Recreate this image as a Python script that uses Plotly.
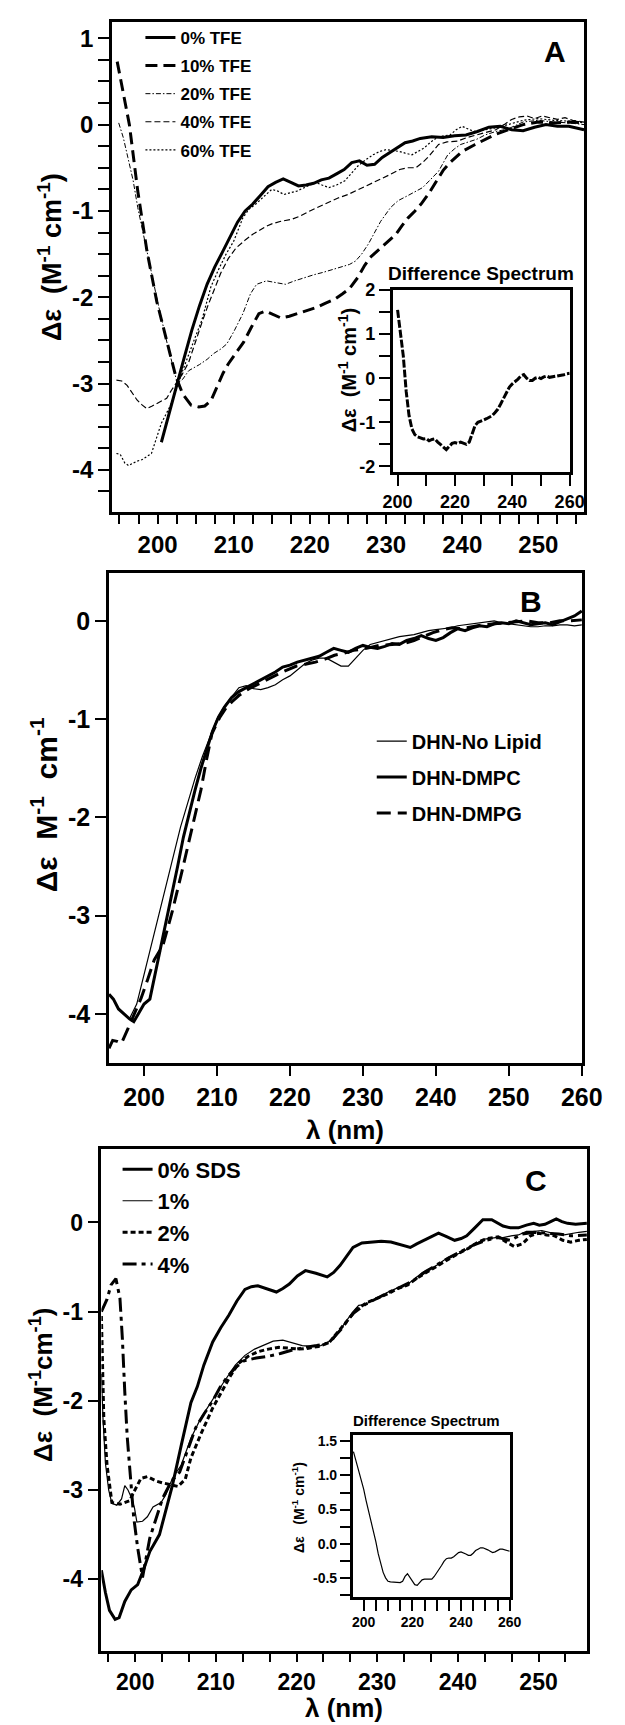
import plotly.graph_objects as go

W, H = 625, 1725
FONT = "Liberation Sans, Arial, Helvetica, sans-serif"

# ---------------- Panel A : TFE titration ----------------
tfe0_x = [200.5, 201.5, 202.5, 203.5, 204.5, 205.5, 206.5, 207.5, 208.5, 209.5, 210.5, 211.5, 212.5, 213.5, 214.5,
          215.5, 216.5, 217.5, 218.5, 219.5, 220.5, 221.5, 222.5, 223.5, 224.5, 225.5, 226.5, 227.5, 228.5, 229.5,
          230.5, 231.5, 232.5, 233.5, 234.5, 236, 237.5, 239, 240.5, 242, 243.5, 245, 246.5, 248, 249.5, 251, 252.5,
          254, 256]
tfe0_y = [-3.68, -3.35, -3.0, -2.7, -2.38, -2.1, -1.85, -1.65, -1.48, -1.3, -1.13, -1.0, -0.92, -0.82, -0.72,
          -0.67, -0.63, -0.67, -0.71, -0.70, -0.68, -0.64, -0.62, -0.57, -0.52, -0.44, -0.42, -0.47, -0.46, -0.38,
          -0.32, -0.26, -0.21, -0.19, -0.16, -0.14, -0.15, -0.13, -0.12, -0.08, -0.03, -0.02, -0.06, -0.07, -0.03,
          0.0, -0.02, -0.02, -0.06]

tfe10_x = [194.7, 195.5, 196.3, 197.4, 198.6, 199.9, 201.1, 202.4, 203.3, 204.4, 205.4, 206.2, 207.0, 207.8, 208.6,
           209.3, 210.3, 211.3, 212.3, 213.3, 214.2, 215.2, 216.2, 217.3, 218.3, 219.5, 220.8, 222.0, 223.3, 224.3,
           225.2, 226.3, 227.2, 227.9, 229.0, 230.0, 231.3, 232.1, 232.9, 233.8, 234.6, 235.6, 236.7, 237.5, 238.4,
           239.2, 240.0, 241.7, 243.0, 244.2, 246.0, 248.0, 250.0, 252.0, 254.0, 256.0]
tfe10_y = [0.73, 0.35, 0.0, -0.77, -1.46, -2.05, -2.46, -2.92, -3.12, -3.25, -3.27, -3.26, -3.2, -3.05, -2.88,
           -2.77, -2.64, -2.52, -2.35, -2.19, -2.16, -2.2, -2.24, -2.22, -2.19, -2.16, -2.12, -2.07, -2.02, -1.96,
           -1.9, -1.77, -1.63, -1.54, -1.45, -1.38, -1.27, -1.17, -1.08, -1.0, -0.92, -0.8, -0.65, -0.53, -0.44,
           -0.37, -0.31, -0.23, -0.17, -0.12, -0.06, 0.0, 0.03, 0.02, 0.03, 0.02]

tfe20_x = [194.9, 195.5, 196.1, 196.8, 197.4, 198.2, 199.1, 200.0, 201.3, 202.6, 203.3, 204.1, 205.5, 206.5, 207.4,
           208.3, 209.1, 210.0, 211.2, 212.2, 213.0, 214.3, 215.5, 216.8, 218.0, 219.3, 220.5, 221.8, 223.0, 224.3,
           225.2, 226.0, 226.8, 227.7, 228.5, 229.3, 230.6, 231.6, 232.7, 233.8, 234.8, 235.8, 236.9, 238.1, 239.0,
           239.8, 241.0, 241.9, 243.0, 244.4, 246.0, 248.0, 250.0, 252.0, 254.0, 256.0]
tfe20_y = [0.02, -0.15, -0.38, -0.65, -0.96, -1.3, -1.65, -2.05, -2.55, -3.0, -2.95, -2.85, -2.78, -2.72, -2.65,
           -2.6, -2.54, -2.4, -2.19, -1.96, -1.85, -1.81, -1.83, -1.85, -1.81, -1.77, -1.74, -1.71, -1.68, -1.65,
           -1.62, -1.58, -1.5, -1.38, -1.25, -1.12, -0.96, -0.88, -0.83, -0.78, -0.73, -0.64, -0.54, -0.35, -0.28,
           -0.23, -0.2, -0.17, -0.12, -0.08, -0.05, 0.03, 0.05, 0.03, 0.02, 0.0]

tfe40_x = [194.6, 195.3, 196.0, 196.7, 197.3, 198.0, 198.6, 199.3, 199.9, 200.5, 201.2, 201.8, 202.4, 203.2, 204.1,
           205.0, 205.8, 206.6, 207.4, 208.3, 209.3, 210.3, 211.6, 212.5, 213.3, 214.2, 215.0, 216.2, 217.5, 218.7,
           220.0, 221.2, 222.5, 223.7, 225.0, 226.2, 227.5, 228.4, 229.3, 230.5, 231.8, 232.8, 233.9, 234.8, 235.6,
           236.3, 236.9, 238.0, 239.4, 240.6, 241.9, 243.0, 244.4, 245.5, 246.5, 247.5, 248.5, 249.5, 250.5, 251.5,
           252.5, 253.5, 254.5, 256.0]
tfe40_y = [-2.96, -2.97, -3.02, -3.12, -3.19, -3.25, -3.29, -3.26, -3.23, -3.21, -3.17, -3.08, -3.0, -2.9, -2.75,
           -2.5, -2.3, -2.1, -1.93, -1.72, -1.55, -1.43, -1.33, -1.27, -1.23, -1.18, -1.15, -1.12, -1.10, -1.06,
           -1.0, -0.95, -0.9, -0.85, -0.81, -0.76, -0.71, -0.67, -0.63, -0.58, -0.52, -0.5, -0.5, -0.44, -0.37,
           -0.3, -0.23, -0.2, -0.19, -0.15, -0.12, -0.09, -0.06, 0.0, 0.06, 0.09, 0.1, 0.07, 0.1, 0.08,
           0.06, 0.08, 0.05, 0.03]

tfe60_x = [194.6, 195.1, 195.7, 196.2, 196.6, 197.3, 198.0, 198.6, 199.2, 199.9, 200.5, 201.6, 202.6, 203.3, 204.1,
           205.0, 205.8, 206.5, 207.0, 208.0, 209.0, 210.0, 211.2, 212.0, 212.9, 214.0, 215.0, 215.8, 216.6, 217.4,
           218.3, 219.5, 220.8, 221.6, 222.5, 223.5, 224.6, 225.5, 226.3, 227.3, 228.3, 229.2, 230.0, 230.8, 231.7,
           232.5, 233.4, 234.2, 235.0, 235.9, 236.7, 237.5, 238.4, 239.2, 240.0, 241.0, 241.7, 243.0, 244.2, 246.0,
           248.0, 250.0, 252.0, 254.0, 256.0]
tfe60_y = [-3.81, -3.82, -3.92, -3.95, -3.93, -3.9, -3.88, -3.85, -3.81, -3.62, -3.46, -3.27, -3.04, -2.85, -2.65,
           -2.45, -2.27, -2.05, -1.88, -1.68, -1.5, -1.35, -1.08, -0.98, -0.92, -0.83, -0.75, -0.77, -0.81, -0.79,
           -0.77, -0.72, -0.67, -0.70, -0.73, -0.7, -0.65, -0.56, -0.48, -0.41, -0.35, -0.31, -0.29, -0.3, -0.31,
           -0.33, -0.35, -0.31, -0.27, -0.2, -0.15, -0.13, -0.12, -0.06, -0.02, -0.06, -0.08, -0.06, -0.04, 0.0,
           0.05, 0.07, 0.05, 0.04, 0.02]

diffA_x = [200, 201, 202, 203, 204, 205, 206, 207, 208, 209, 210, 211, 212, 213, 214, 215, 216, 217, 218, 219, 220,
           221, 222, 223, 224, 225, 226, 227, 228, 229, 230, 231, 232, 233, 234, 235, 236, 237, 238, 239, 240, 241,
           242, 243, 244, 245, 246, 247, 248, 249, 250, 251, 252, 253, 254, 255, 256, 257, 258, 259, 260]
diffA_y = [1.55, 1.0, 0.5, -0.3, -0.85, -1.15, -1.28, -1.33, -1.36, -1.38, -1.37, -1.42, -1.39, -1.38, -1.45, -1.5,
           -1.55, -1.62, -1.55, -1.48, -1.46, -1.48, -1.45, -1.47, -1.5, -1.45, -1.25, -1.08, -1.0, -0.98, -0.95,
           -0.92, -0.88, -0.85, -0.78, -0.7, -0.58, -0.46, -0.32, -0.2, -0.13, -0.08, -0.02, 0.05, 0.08, 0.0, -0.05,
           -0.05, 0.0, 0.02, -0.01, 0.03, 0.05, 0.02, 0.03, 0.04, 0.05, 0.06, 0.08, 0.1, 0.11]

# ---------------- Panel B : lipids ----------------
nolip_x = [198.0, 199.0, 200.0, 201.0, 202.0, 203.0, 204.0, 205.0, 206.0, 207.0, 208.0, 209.0, 210.0, 211.0, 212.0,
           213.0, 214.0, 215.0, 216.0, 217.0, 218.0, 219.0, 220.0, 221.0, 222.0, 223.0, 224.0, 225.0, 226.0, 227.0,
           228.0, 229.0, 230.0, 231.0, 232.0, 233.0, 234.0, 235.0, 236.0, 237.0, 238.0, 239.0, 240.0, 241.0, 242.0,
           243.0, 244.0, 245.0, 246.0, 247.0, 248.0, 249.0, 250.0, 251.0, 252.0, 253.0, 254.0, 255.0, 256.0, 257.0,
           258.0, 259.0, 260.0]
nolip_y = [-4.05, -3.9, -3.6, -3.3, -3.0, -2.7, -2.4, -2.1, -1.85, -1.6, -1.38, -1.18, -1.0, -0.87, -0.77,
           -0.68, -0.66, -0.69, -0.7, -0.68, -0.65, -0.6, -0.56, -0.5, -0.44, -0.4, -0.38, -0.38, -0.42, -0.46,
           -0.46, -0.38, -0.3, -0.24, -0.22, -0.2, -0.18, -0.16, -0.15, -0.14, -0.12, -0.1, -0.09, -0.08, -0.07,
           -0.05, -0.04, -0.03, -0.02, -0.01, 0.0, -0.02, -0.03, -0.04, -0.05, -0.06, -0.06, -0.05, -0.05, -0.04,
           -0.04, -0.05, -0.04]

dmpc_x = [195.2, 195.8, 196.5, 197.2, 198.0, 198.6, 199.2, 200.0, 200.8, 201.5, 202.2, 203.0, 203.8, 204.6, 205.4,
          206.2, 207.0, 207.8, 208.6, 209.4, 210.2, 211.0, 212.0, 213.0, 214.0, 215.0, 216.0, 217.0, 218.0, 219.0,
          220.0, 221.0, 222.0, 223.0, 224.0, 225.0, 226.0, 227.0, 228.0, 229.0, 230.0, 231.0, 232.0, 233.0, 234.0,
          235.0, 236.0, 237.0, 238.0, 239.0, 240.0, 241.0, 242.0, 243.0, 244.0, 245.0, 246.0, 247.0, 248.0, 249.0,
          250.0, 251.0, 252.0, 253.0, 254.0, 255.0, 256.0, 257.0, 258.0, 259.0, 260.0]
dmpc_y = [-3.8, -3.85, -3.95, -4.0, -4.05, -4.08, -4.0, -3.9, -3.85, -3.6, -3.35, -3.1, -2.8, -2.5, -2.2,
          -1.95, -1.72, -1.5, -1.3, -1.12, -0.98, -0.88, -0.78, -0.72, -0.68, -0.64, -0.6, -0.56, -0.52, -0.47,
          -0.45, -0.42, -0.4, -0.38, -0.36, -0.32, -0.28, -0.3, -0.32, -0.28, -0.25, -0.27, -0.28, -0.26, -0.23,
          -0.24, -0.2, -0.18, -0.15, -0.18, -0.2, -0.17, -0.12, -0.08, -0.1, -0.07, -0.05, -0.06, -0.03, -0.02,
          -0.03, 0.0, -0.02, -0.04, -0.03, -0.02, -0.04, -0.01, 0.02, 0.05, 0.1]

dmpg_x = [195.2, 195.7, 196.3, 196.9, 197.8, 198.7, 199.6, 200.5, 201.4, 202.6, 203.9, 205.2, 206.5, 207.8, 208.6,
          209.3, 210.4, 211.3, 212.1, 213.0, 214.4, 216.0, 217.4, 219.0, 220.9, 222.3, 223.5, 224.8, 226.1, 227.4,
          228.7, 230.5, 232.2, 234.0, 235.7, 237.0, 238.3, 239.6, 240.9, 242.2, 243.5, 245.0, 246.5, 248.0, 249.5,
          251.0, 252.5, 254.0, 255.5, 257.0, 258.5, 260.0]
dmpg_y = [-4.35, -4.27, -4.28, -4.3, -4.15, -4.0, -3.84, -3.65, -3.45, -3.3, -2.95, -2.55, -2.15, -1.72, -1.4,
          -1.15, -0.98, -0.88, -0.82, -0.76, -0.69, -0.63, -0.58, -0.52, -0.46, -0.44, -0.42, -0.39, -0.35, -0.33,
          -0.3, -0.28, -0.25, -0.24, -0.23, -0.2, -0.16, -0.12, -0.09, -0.07, -0.08, -0.06, -0.04, -0.03, -0.02,
          -0.01, 0.0, -0.02, -0.02, 0.0, 0.0, 0.01]

# ---------------- Panel C : SDS ----------------
sds0_x = [195.8, 196.3, 196.8, 197.5, 198.0, 198.7, 199.5, 200.3, 201.0, 201.8, 203.0, 203.8, 204.6, 205.7, 206.9,
          207.7, 208.5, 209.6, 210.6, 211.6, 212.6, 213.6, 214.4, 215.2, 216.3, 217.5, 218.3, 219.1, 220.1, 221.1,
          222.4, 223.8, 224.6, 225.4, 226.2, 227.0, 228.1, 229.3, 230.5, 231.7, 232.9, 234.1, 234.9, 235.6, 236.6,
          237.6, 238.6, 239.6, 240.4, 241.1, 242.1, 243.1, 244.2, 245.6, 246.5, 247.5, 248.5, 249.4, 250.1, 250.8,
          251.5, 252.2, 252.9, 253.6, 254.6, 256.0]
sds0_y = [-3.9, -4.15, -4.35, -4.45, -4.43, -4.25, -4.12, -4.06, -3.9, -3.69, -3.5, -3.24, -2.95, -2.5, -2.02,
          -1.84, -1.6, -1.34, -1.18, -1.04, -0.88, -0.75, -0.72, -0.71, -0.74, -0.78, -0.74, -0.69, -0.6, -0.54,
          -0.57, -0.61, -0.56, -0.48, -0.38, -0.28, -0.23, -0.22, -0.21, -0.22, -0.25, -0.28, -0.24, -0.21, -0.16,
          -0.12, -0.16, -0.2, -0.18, -0.15, -0.06, 0.03, 0.03, -0.04, -0.06, -0.06, -0.03, -0.01, -0.03, -0.02,
          0.01, 0.04, 0.01, -0.01, -0.02, -0.01]

sds1_x = [195.8, 196.0, 196.3, 196.7, 197.1, 197.7, 198.3, 198.7, 199.1, 199.5, 199.9, 200.2, 200.9, 201.5, 202.2,
          203.2, 203.8, 204.6, 205.7, 206.9, 208.1, 209.6, 210.9, 212.4, 213.6, 214.8, 215.9, 217.1, 218.3, 219.5,
          220.7, 221.8, 223.0, 224.6, 225.4, 226.2, 227.0, 227.7, 228.5, 229.3, 230.1, 231.1, 232.1, 233.1, 234.1,
          235.6, 237.2, 238.8, 240.4, 241.9, 243.1, 244.7, 245.6, 246.6, 247.5, 248.5, 249.5, 250.4, 251.3, 252.2,
          253.2, 254.2, 255.0, 256.0]
sds1_y = [-1.7, -2.2, -2.7, -3.0, -3.15, -3.17, -3.1, -2.95, -3.0, -3.08, -3.2, -3.36, -3.35, -3.3, -3.19,
          -3.14, -3.05, -2.87, -2.72, -2.42, -2.2, -1.98, -1.8, -1.6, -1.49, -1.42, -1.38, -1.33, -1.32, -1.35,
          -1.38, -1.39, -1.38, -1.31, -1.2, -1.1, -1.0, -0.93, -0.92, -0.88, -0.84, -0.79, -0.75, -0.71, -0.67,
          -0.56, -0.49, -0.39, -0.34, -0.26, -0.19, -0.17, -0.17, -0.15, -0.14, -0.1, -0.1, -0.09, -0.11, -0.13,
          -0.14, -0.12, -0.11, -0.1]

sds2_x = [195.8, 195.9, 196.1, 196.5, 197.1, 198.1, 199.3, 199.9, 200.7, 201.5, 202.6, 203.4, 204.2, 205.3, 206.2,
          206.9, 208.1, 209.6, 210.7, 211.8, 212.8, 214.0, 215.2, 216.5, 217.8, 219.0, 220.3, 221.5, 222.7, 224.0,
          225.2, 226.4, 227.5, 228.7, 230.0, 231.3, 232.6, 233.8, 235.0, 236.3, 237.5, 238.8, 240.0, 241.3, 242.5,
          243.7, 245.0, 246.0, 247.0, 248.0, 249.0, 250.0, 251.0, 252.0, 253.0, 254.0, 255.0, 256.0]
sds2_y = [-1.05, -1.6, -2.2, -2.72, -3.14, -3.16, -3.12, -3.01, -2.87, -2.85, -2.9, -2.92, -2.94, -2.96, -2.88,
          -2.64, -2.38, -2.08, -1.9, -1.72, -1.58, -1.5, -1.45, -1.42, -1.4, -1.41, -1.42, -1.41, -1.39, -1.35,
          -1.22, -1.08, -0.97, -0.9, -0.85, -0.8, -0.74, -0.7, -0.62, -0.55, -0.48, -0.41, -0.35, -0.29, -0.22,
          -0.18, -0.16, -0.22, -0.27, -0.24, -0.15, -0.12, -0.14, -0.15, -0.2, -0.22, -0.2, -0.19]

sds4_x = [195.8, 196.5, 197.0, 197.6, 198.1, 198.4, 198.7, 199.0, 199.4, 199.8, 200.3, 200.9, 201.8, 202.6, 203.4,
          204.5, 205.5, 206.5, 207.5, 208.5, 209.6, 210.5, 211.5, 212.5, 213.5, 215.0, 216.5, 218.0, 219.5, 221.0,
          222.5, 224.0, 225.5, 227.0, 228.5, 230.0, 231.5, 233.0, 234.5, 236.0, 237.5, 239.0, 240.5, 242.0, 243.5,
          245.0, 246.5, 248.0, 249.5, 251.0, 252.5, 254.0, 256.0]
sds4_y = [-1.0, -0.86, -0.7, -0.63, -0.85, -1.3, -1.9, -2.4, -2.85, -3.3, -3.65, -3.98, -3.54, -3.31, -3.09,
          -2.9, -2.8, -2.55, -2.3, -2.15, -2.0, -1.85, -1.72, -1.62, -1.55, -1.52, -1.5, -1.47, -1.43, -1.4,
          -1.38, -1.35, -1.2, -1.02, -0.92, -0.85, -0.78, -0.72, -0.65, -0.55, -0.47, -0.39, -0.32, -0.25, -0.2,
          -0.17, -0.2, -0.13, -0.11, -0.12, -0.13, -0.15, -0.14]

diffC_x = [195.8, 197, 198, 199, 200, 201, 202, 203, 204, 205, 206, 207, 208, 209, 210, 211, 212, 213, 214, 215, 216,
           217, 218, 219, 220, 221, 222, 223, 224, 225, 226, 227, 228, 229, 230, 231, 232, 233, 234, 235, 236, 237,
           238, 239, 240, 241, 242, 243, 244, 245, 246, 247, 248, 249, 250, 251, 252, 253, 254, 255, 256, 257, 258,
           259, 260]
diffC_y = [1.35, 1.2, 1.06, 0.94, 0.8, 0.63, 0.48, 0.33, 0.2, 0.03, -0.15, -0.3, -0.42, -0.5, -0.55, -0.56, -0.56,
           -0.57, -0.56, -0.57, -0.55, -0.48, -0.44, -0.5, -0.56, -0.6, -0.61, -0.57, -0.53, -0.52, -0.52, -0.53,
           -0.52, -0.48, -0.43, -0.38, -0.32, -0.26, -0.22, -0.21, -0.21, -0.19, -0.16, -0.13, -0.12, -0.13, -0.15,
           -0.17, -0.17, -0.14, -0.1, -0.08, -0.06, -0.06, -0.07, -0.09, -0.11, -0.13, -0.12, -0.1, -0.08, -0.08,
           -0.09, -0.1, -0.11]

# tick values / labels (hyphen minus as in the original)
yA_vals = [1, 0, -1, -2, -3, -4]
yA_text = ["1", "0", "-1", "-2", "-3", "-4"]
yAin_vals = [2, 1, 0, -1, -2]
yAin_text = ["2", "1", "0", "-1", "-2"]
yB_vals = [0, -1, -2, -3, -4]
yB_text = ["0", "-1", "-2", "-3", "-4"]
yC_vals = [0, -1, -2, -3, -4]
yC_text = ["0", "-1", "-2", "-3", "-4"]
yCin_vals = [1.5, 1.0, 0.5, 0.0, -0.5]
yCin_text = ["1.5", "1.0", "0.5", "0.0", "-0.5"]

series = [
    # name, x, y, xaxis, yaxis, width, dash, legend
    ("0% TFE", tfe0_x, tfe0_y, "x", "y", 3.0, "solid", "legend"),
    ("10% TFE", tfe10_x, tfe10_y, "x", "y", 3.0, "12px,6px", "legend"),
    ("20% TFE", tfe20_x, tfe20_y, "x", "y", 1.0, "5px,2px,1.5px,2px", "legend"),
    ("40% TFE", tfe40_x, tfe40_y, "x", "y", 1.2, "6px,3px", "legend"),
    ("60% TFE", tfe60_x, tfe60_y, "x", "y", 1.2, "2px,2px", "legend"),
    ("diffA", diffA_x, diffA_y, "x2", "y2", 3.0, "8px,2px", None),
    ("DHN-No Lipid", nolip_x, nolip_y, "x3", "y3", 1.2, "solid", "legend2"),
    ("DHN-DMPC", dmpc_x, dmpc_y, "x3", "y3", 3.0, "solid", "legend2"),
    ("DHN-DMPG", dmpg_x, dmpg_y, "x3", "y3", 3.0, "14px,7px", "legend2"),
    ("0% SDS", sds0_x, sds0_y, "x4", "y4", 3.0, "solid", "legend3"),
    ("1%", sds1_x, sds1_y, "x4", "y4", 1.2, "solid", "legend3"),
    ("2%", sds2_x, sds2_y, "x4", "y4", 3.0, "5px,3px", "legend3"),
    ("4%", sds4_x, sds4_y, "x4", "y4", 3.0, "14px,5px,4px,5px", "legend3"),
    ("diffC", diffC_x, diffC_y, "x5", "y5", 1.2, "solid", None),
]

fig = go.Figure()
for name, xs, ys, xa, ya, w, dash, leg in series:
    assert len(xs) == len(ys), name
    kw = dict(x=xs, y=ys, xaxis=xa, yaxis=ya, mode="lines", name=name,
              line=dict(color="black", width=w, dash=dash), legendgroup=name,
              showlegend=leg is not None)
    if leg:
        kw["legend"] = leg
    fig.add_trace(go.Scatter(**kw))


def px(v):
    return v / W


def py(v):
    return 1 - v / H


def ax(domain, rng, dtick, tick0, fsize, anchor, minor=None, lw=2.5, tlen=9, vals=None, text=None,
       standoff=None):
    d = dict(domain=domain, range=rng, anchor=anchor, showline=True, linecolor="black", linewidth=lw,
             mirror=True, ticks="outside", ticklen=tlen, tickwidth=2, tickcolor="black", dtick=dtick,
             tick0=tick0, showgrid=False, zeroline=False,
             tickfont=dict(family=FONT, size=fsize, color="black", weight="bold"))
    if vals is not None:
        d["tickmode"] = "array"
        d["tickvals"] = vals
        d["ticktext"] = text
    if standoff is not None:
        d["ticklabelstandoff"] = standoff
    if minor:
        d["minor"] = dict(dtick=minor, tick0=tick0, ticks="outside", ticklen=tlen, tickwidth=2,
                          tickcolor="black", showgrid=False)
    return d


layout = dict(
    width=W, height=H, margin=dict(l=0, r=0, t=0, b=0),
    paper_bgcolor="white", plot_bgcolor="white",
    font=dict(family=FONT, color="black"),
    # Panel A
    xaxis=ax([px(107), px(603)], [194, 256], 10, 200, 24, "y", minor=2.5, tlen=9),
    yaxis=ax([py(507), py(13)], [-4.49, 1.19], 1, 0, 24, "x", minor=0.25, tlen=11, vals=yA_vals, text=yA_text),
    # inset A
    xaxis2=ax([px(402), px(588)], [198.3, 260.05], 20, 200, 18, "y2", minor=10, tlen=11),
    yaxis2=ax([py(467), py(283)], [-2.14, 2.005], 1, 0, 18, "x2", minor=0.5, tlen=11, vals=yAin_vals,
              text=yAin_text),
    # Panel B
    xaxis3=ax([px(104), px(601)], [195.2, 260.05], 10, 200, 25, "y3", tlen=10),
    yaxis3=ax([py(1062), py(568)], [-4.5, 0.49], 1, 0, 25, "x3", tlen=11, vals=yB_vals, text=yB_text),
    # Panel C
    xaxis4=ax([px(96), px(606)], [195.8, 256], 10, 200, 23, "y4", minor=10 / 3, tlen=9),
    yaxis4=ax([py(1654), py(1149)], [-4.8, 0.82], 1, 0, 23, "x4", tlen=11, vals=yC_vals, text=yC_text),
    # inset C
    xaxis5=ax([px(360), px(525)], [195.5, 260.05], 20, 200, 14, "y5", minor=5, tlen=11),
    yaxis5=ax([py(1600), py(1437)], [-0.78, 1.59], 0.5, 0, 14, "x5", minor=0.25, tlen=10, vals=yCin_vals,
              text=yCin_text),
    legend=dict(x=px(137), y=py(11), xanchor="left", yanchor="top", bgcolor="rgba(0,0,0,0)",
                font=dict(family=FONT, size=17, color="black", weight="bold"), tracegroupgap=3, itemwidth=30),
    legend2=dict(x=px(380), y=py(718), xanchor="left", yanchor="top", bgcolor="rgba(0,0,0,0)",
                 font=dict(family=FONT, size=20, color="black", weight="bold"), tracegroupgap=7, itemwidth=30),
    legend3=dict(x=px(113), y=py(1148), xanchor="left", yanchor="top", bgcolor="rgba(0,0,0,0)",
                 font=dict(family=FONT, size=22, color="black", weight="bold"), tracegroupgap=0, itemwidth=30),
)
fig.update_layout(**layout)


def note(text, x, y, size, angle=0, xanchor="center", yanchor="middle"):
    fig.add_annotation(text=text, x=px(x), y=py(y), xref="paper", yref="paper", showarrow=False,
                       textangle=angle, xanchor=xanchor, yanchor=yanchor,
                       font=dict(family=FONT, size=size, color="black", weight="bold"))


# panel letters
note("A", 572, 43, 30)
note("B", 547, 597, 30)
note("C", 553, 1180, 30)
# inset titles
note("Difference Spectrum", 495, 267, 19)
note("Difference Spectrum", 438, 1422, 15)
# y titles
note("Δε  (M<sup>-1</sup> cm<sup>-1</sup>)", 42, 250, 27, angle=-90)
note("Δε  M<sup>-1</sup>  cm<sup>-1</sup>", 36, 802, 30, angle=-90)
note("Δε  (M<sup>-1</sup>cm<sup>-1</sup>)", 33, 1386, 26, angle=-90)
note("Δε  (M<sup>-1</sup> cm<sup>-1</sup>)", 354, 364, 20, angle=-90)
note("Δε   (M<sup>-1</sup> cm<sup>-1</sup>)", 302, 1510, 14, angle=-90)
# x titles
note("λ (nm)", 352, 1130, 26)
note("λ (nm)", 351, 1712, 26)

fig.write_html("out.html", config={"displayModeBar": False},
               post_script="document.body.style.margin='0';document.body.style.padding='0';"
                           "document.body.style.overflow='hidden';")
